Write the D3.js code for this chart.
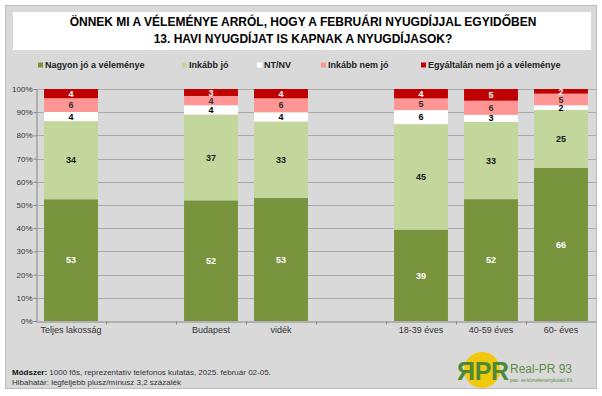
<!DOCTYPE html>
<html>
<head>
<meta charset="utf-8">
<script src="https://cdn.jsdelivr.net/npm/d3@7"></script>
<style>
  body { margin: 0; background: #fff; }
  svg { display: block; font-family: Arial, "Liberation Sans", sans-serif; }
</style>
</head>
<body>
<script>

// DATA
var categories = ["Teljes lakosság", "", "Budapest", "vidék", " ", "18-39 éves", "40-59 éves", "60- éves"];
var seriesNames = ["Nagyon jó a véleménye", "Inkább jó", "NT/NV", "Inkább nem jó", "Egyáltalán nem jó a véleménye"];
var nagyonJo     = [53, null, 52, 53, null, 39, 52, 66];
var inkabbJo     = [34, null, 37, 33, null, 45, 33, 25];
var ntnv         = [4,  null, 4,  4,  null, 6,  3,  2];
var inkabbNemJo  = [6,  null, 4,  6,  null, 5,  6,  5];
var egyaltalan   = [4,  null, 3,  4,  null, 4,  5,  2];
var yTicks = [0, 10, 20, 30, 40, 50, 60, 70, 80, 90, 100];

var colors = ["#77933c", "#c3d69b", "#ffffff", "#ff9595", "#c00000"];
var labelColors = ["#ffffff", "#1a1a1a", "#000000", "#333333", "#ffffff"];

var width = 602, height = 396;

var svg = d3.select("body").append("svg").attr("width", width).attr("height", height);

// frame + title box
svg.append("rect").attr("x", 5.5).attr("y", 5.5).attr("width", 591).attr("height", 383)
    .attr("fill", "#d9d9d9").attr("stroke", "#bcbcbc");
svg.append("rect").attr("x", 13).attr("y", 12).attr("width", 578).attr("height", 38).attr("fill", "#ffffff");

svg.append("text").attr("x", 303).attr("y", 26).attr("text-anchor", "middle")
    .attr("font-size", "12px").attr("font-weight", "bold").attr("fill", "#000")
    .text("ÖNNEK MI A VÉLEMÉNYE ARRÓL, HOGY A FEBRUÁRI NYUGDÍJJAL EGYIDŐBEN");
svg.append("text").attr("x", 303).attr("y", 43).attr("text-anchor", "middle")
    .attr("font-size", "12px").attr("font-weight", "bold").attr("fill", "#000")
    .text("13. HAVI NYUGDÍJAT IS KAPNAK A NYUGDÍJASOK?");

// LEGEND
var legendX = [38, 182, 257, 321, 421];
var legend = svg.append("g").selectAll("g").data(seriesNames).enter().append("g")
    .attr("transform", function(d, i) { return "translate(" + legendX[i] + ",65)"; });
legend.append("rect").attr("x", 0).attr("y", -2.5).attr("width", 5).attr("height", 5)
    .attr("fill", function(d, i) { return colors[i]; });
legend.append("text").attr("x", 7).attr("y", 3.2)
    .attr("font-size", "9px").attr("font-weight", "bold").attr("fill", "#222")
    .text(function(d) { return d; });

// SCALES
var margin = {left: 36, top: 89, right: 596, bottom: 321};

var xScale = d3.scaleBand()
    .domain(categories)
    .range([margin.left, margin.right])
    .paddingInner(0.23)
    .paddingOuter(0.115);

var yScale = d3.scaleLinear()
    .domain([0, 100])
    .range([margin.bottom, margin.top]);

// GRID
svg.append("g").selectAll("line").data(yTicks.slice(1)).enter().append("line")
    .attr("x1", margin.left).attr("x2", margin.right)
    .attr("y1", function(d) { return Math.round(yScale(d)) + 0.5; })
    .attr("y2", function(d) { return Math.round(yScale(d)) + 0.5; })
    .attr("stroke", "#ababab").attr("stroke-width", 1);

// STACK (100% stacked)
var rows = categories.map(function(c, i) {
    return {cat: c, vals: [nagyonJo[i], inkabbJo[i], ntnv[i], inkabbNemJo[i], egyaltalan[i]]};
}).filter(function(r) { return r.vals[0] !== null; });

var segs = [];
rows.forEach(function(r) {
    var total = d3.sum(r.vals), acc = 0;
    r.vals.forEach(function(v, k) {
        segs.push({cat: r.cat, k: k, v: v, y0: acc / total * 100, y1: (acc + v) / total * 100});
        acc += v;
    });
});

var chartGroup = svg.append("g");

chartGroup.selectAll("rect").data(segs).enter().append("rect")
    .attr("x", function(d) { return xScale(d.cat); })
    .attr("width", xScale.bandwidth())
    .attr("y", function(d) { return yScale(d.y1); })
    .attr("height", function(d) { return yScale(d.y0) - yScale(d.y1); })
    .attr("fill", function(d) { return colors[d.k]; });

chartGroup.selectAll("text").data(segs).enter().append("text")
    .attr("x", function(d) { return xScale(d.cat) + xScale.bandwidth() / 2; })
    .attr("y", function(d) { return yScale((d.y0 + d.y1) / 2) + 3.2; })
    .attr("text-anchor", "middle")
    .attr("font-size", "9px").attr("font-weight", "bold")
    .attr("fill", function(d) { return labelColors[d.k]; })
    .text(function(d) { return d.v; });

// AXES
var yAxis = d3.axisLeft(yScale).tickValues(yTicks).tickSize(3)
    .tickFormat(function(d) { return d + "%"; });

svg.append("g")
    .attr("class", "y axis")
    .attr("transform", "translate(" + (margin.left + 0.5) + ",0)")
    .call(yAxis)
    .call(function(g) {
        g.select(".domain").attr("stroke", "#868686");
        g.selectAll(".tick line").attr("stroke", "#868686");
        g.selectAll(".tick text").attr("font-size", "8px").attr("fill", "#333")
            .attr("font-family", "Arial, 'Liberation Sans', sans-serif").attr("x", -4);
    });

var xAxis = d3.axisBottom(xScale).tickSize(0);

var xg = svg.append("g")
    .attr("class", "x axis")
    .attr("transform", "translate(0," + (margin.bottom + 0.5) + ")")
    .call(xAxis);
xg.select(".domain").attr("stroke", "#868686");
xg.selectAll(".tick text").attr("font-size", "9px").attr("fill", "#333")
    .attr("font-family", "Arial, 'Liberation Sans', sans-serif").attr("dy", "0.9em").attr("y", 3);

// category separators on x axis
xg.selectAll("line.sep").data(categories.slice(1)).enter().append("line")
    .attr("class", "sep")
    .attr("x1", function(d) { return Math.round(xScale(d) - xScale.step() * xScale.paddingInner() / 2) + 0.5; })
    .attr("x2", function(d) { return Math.round(xScale(d) - xScale.step() * xScale.paddingInner() / 2) + 0.5; })
    .attr("y1", 0).attr("y2", 3)
    .attr("stroke", "#868686");

// FOOTER
var foot = svg.append("g").attr("font-size", "8px").attr("fill", "#333");
var f1 = foot.append("text").attr("x", 12).attr("y", 375);
f1.append("tspan").attr("font-weight", "bold").attr("fill", "#111").text("Módszer:");
f1.append("tspan").text(" 1000 fős, reprezentatív telefonos kutatás, 2025. február 02-05.");
foot.append("text").attr("x", 12).attr("y", 385).text("Hibahatár: legfeljebb plusz/mínusz 3,2 százalék");

// LOGO
var logo = svg.append("g");
logo.append("circle").attr("cx", 482).attr("cy", 370).attr("r", 18).attr("fill", "#f2c80f");
logo.append("text").attr("x", 466).attr("y", 380).attr("text-anchor", "middle")
    .attr("font-size", "25px").attr("font-weight", "bold").attr("fill", "#4e8a35")
    .attr("transform", "translate(932,0) scale(-1,1)").text("R");
logo.append("text").attr("x", 483).attr("y", 380).attr("text-anchor", "middle")
    .attr("font-size", "25px").attr("font-weight", "bold").attr("fill", "#4e8a35").text("P");
logo.append("text").attr("x", 500).attr("y", 380).attr("text-anchor", "middle")
    .attr("font-size", "25px").attr("font-weight", "bold").attr("fill", "#4e8a35").text("R");
logo.append("text").attr("x", 510).attr("y", 373)
    .attr("font-size", "12px").attr("fill", "#5b8f45").text("Real-PR 93");
logo.append("text").attr("x", 510).attr("y", 382)
    .attr("font-size", "4.5px").attr("fill", "#5b8f45").text("piac- és közvéleménykutató Kft.");

</script>
</body>
</html>
